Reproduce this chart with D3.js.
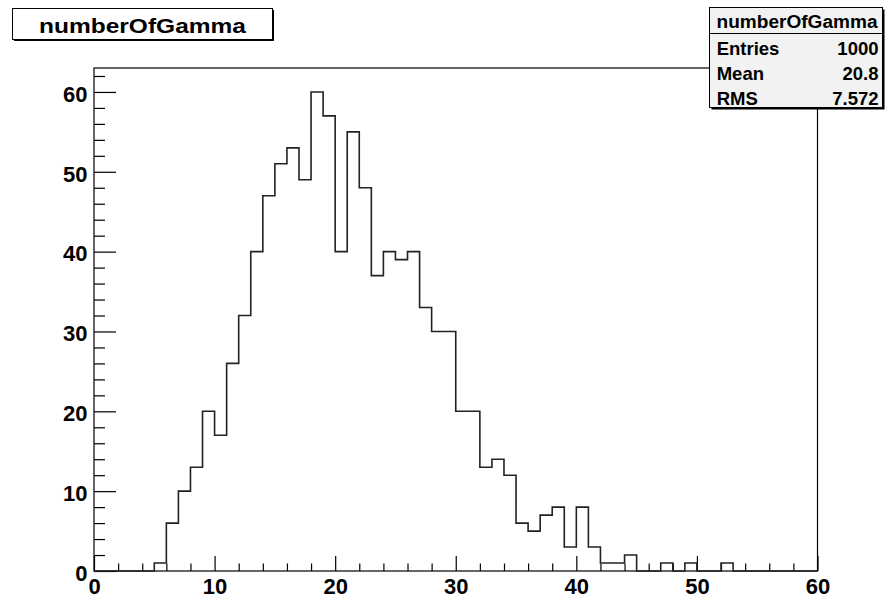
<!DOCTYPE html>
<html>
<head>
<meta charset="utf-8">
<script src="https://cdn.jsdelivr.net/npm/d3@7/dist/d3.min.js"></script>
<style>
  html, body { margin: 0; padding: 0; background: #fff; }
  svg { display: block; }
  text { font-family: "Liberation Sans", Arial, Helvetica, sans-serif; font-weight: bold; fill: #000; }
</style>
</head>
<body>
<svg id="chart" width="885" height="598"></svg>
<script>
// Histogram "numberOfGamma": 60 bins of width 1 on [0, 60)
const histTitle = "numberOfGamma";
const binEdgesRange = [0, 60];
const binCounts = [
  0, 0, 0, 0, 0, 1, 6, 10, 13, 20,
  17, 26, 32, 40, 47, 51, 53, 49, 60, 57,
  40, 55, 48, 37, 40, 39, 40, 33, 30, 30,
  20, 20, 13, 14, 12, 6, 5, 7, 8, 3,
  8, 3, 1, 1, 2, 0, 0, 1, 0, 1,
  0, 0, 1, 0, 0, 0, 0, 0, 0, 0
];
const xMajorTicks = [0, 10, 20, 30, 40, 50, 60];
const yMajorTicks = [0, 10, 20, 30, 40, 50, 60];
const statNames = ["Entries", "Mean", "RMS"];
const statValues = ["1000", "20.8", "7.572"];

const svg = d3.select("#chart");
const frame = { left: 94, right: 817.5, top: 68, bottom: 571 };
const yMax = d3.max(binCounts) * 1.05;

const x = d3.scaleLinear().domain(binEdgesRange).range([frame.left, frame.right]);
const y = d3.scaleLinear().domain([0, yMax]).range([frame.bottom, frame.top]);

// frame
svg.append("rect")
  .attr("x", frame.left).attr("y", frame.top)
  .attr("width", frame.right - frame.left).attr("height", frame.bottom - frame.top)
  .attr("fill", "none").attr("stroke", "#000").attr("stroke-width", 1.2);

// minor ticks every 2 units
const xMinor = d3.range(0, 61, 2).filter(v => v % 10 !== 0);
const yMinor = d3.range(0, yMax, 2).filter(v => v % 10 !== 0);

const yAxis = svg.append("g").attr("transform", `translate(${frame.left},0)`)
  .call(d3.axisLeft(y).tickValues(yMajorTicks).tickFormat(d3.format("d"))
    .tickSizeInner(-22).tickSizeOuter(0).tickPadding(6.5));
yAxis.append("g").call(d3.axisLeft(y).tickValues(yMinor).tickFormat("")
    .tickSizeInner(-11).tickSizeOuter(0));

const xAxis = svg.append("g").attr("transform", `translate(0,${frame.bottom})`)
  .call(d3.axisBottom(x).tickValues(xMajorTicks).tickFormat(d3.format("d"))
    .tickSizeInner(-15).tickSizeOuter(0).tickPadding(7.5));
xAxis.append("g").call(d3.axisBottom(x).tickValues(xMinor).tickFormat("")
    .tickSizeInner(-7.5).tickSizeOuter(0));

svg.selectAll(".domain").remove();
svg.selectAll(".tick line").attr("stroke", "#000").attr("stroke-width", 1.2);
svg.selectAll(".tick text").style("font-size", "22px").attr("fill", "#000")
  .style("font-family", "'Liberation Sans', Arial, sans-serif").style("font-weight", "bold");
yAxis.selectAll(".tick text").attr("dy", "0.42em");

// histogram contour
const binWidth = (binEdgesRange[1] - binEdgesRange[0]) / binCounts.length;
const pts = [[binEdgesRange[0], 0]];
binCounts.forEach((c, i) => {
  const x0 = binEdgesRange[0] + i * binWidth;
  pts.push([x0, c], [x0 + binWidth, c]);
});
pts.push([binEdgesRange[1], 0]);
svg.append("path")
  .attr("d", d3.line().x(d => x(d[0])).y(d => y(d[1]))(pts))
  .attr("fill", "none").attr("stroke", "#222").attr("stroke-width", 1.6)
  .attr("stroke-linejoin", "miter");

// title box
const tb = { x: 12.5, y: 8.5, w: 260, h: 31 };
svg.append("rect").attr("x", tb.x + 1.5).attr("y", tb.y + 1.5).attr("width", tb.w).attr("height", tb.h)
  .attr("fill", "#000");
svg.append("rect").attr("x", tb.x).attr("y", tb.y).attr("width", tb.w).attr("height", tb.h)
  .attr("fill", "#fff").attr("stroke", "#000").attr("stroke-width", 1);
svg.append("text").attr("x", tb.x + tb.w / 2).attr("y", 33.3).attr("text-anchor", "middle")
  .style("font-size", "21px").attr("textLength", 207).attr("lengthAdjust", "spacingAndGlyphs")
  .text(histTitle);

// statistics box
const sb = { x: 709.5, y: 7.5, w: 173, h: 100 };
svg.append("rect").attr("x", sb.x + 2).attr("y", sb.y + 2).attr("width", sb.w).attr("height", sb.h)
  .attr("fill", "#000");
svg.append("rect").attr("x", sb.x).attr("y", sb.y).attr("width", sb.w).attr("height", sb.h)
  .attr("fill", "#f2f2f2").attr("stroke", "#000").attr("stroke-width", 1);
svg.append("line").attr("x1", sb.x).attr("x2", sb.x + sb.w).attr("y1", 33.5).attr("y2", 33.5)
  .attr("stroke", "#000").attr("stroke-width", 1);
svg.append("text").attr("x", sb.x + sb.w / 2 + 1).attr("y", 27.5).attr("text-anchor", "middle")
  .style("font-size", "17.5px").attr("textLength", 161).attr("lengthAdjust", "spacingAndGlyphs")
  .text(histTitle);
const rowBase = [54.5, 80, 104.5];
statNames.forEach((n, i) => {
  svg.append("text").attr("x", 716.7).attr("y", rowBase[i]).style("font-size", "18.5px").text(n);
  svg.append("text").attr("x", 878.5).attr("y", rowBase[i]).attr("text-anchor", "end")
    .style("font-size", "18.5px").text(statValues[i]);
});
</script>
</body>
</html>
